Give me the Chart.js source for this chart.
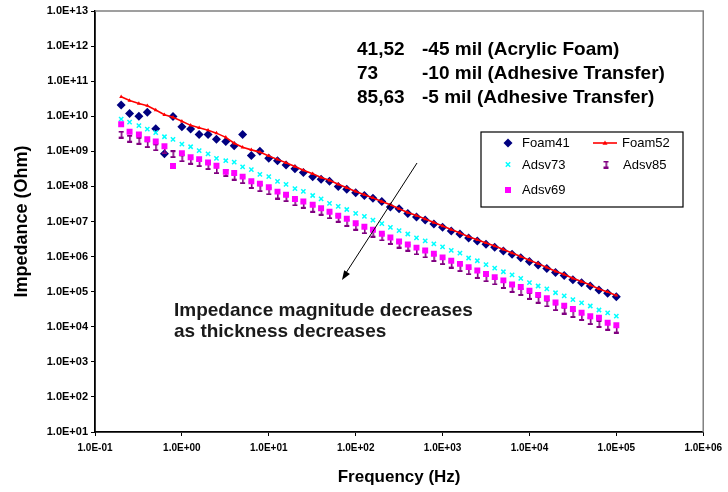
<!DOCTYPE html>
<html>
<head>
<meta charset="utf-8">
<script src="https://cdn.jsdelivr.net/npm/chart.js@4.4.0/dist/chart.umd.min.js"></script>
<style>
    html, body { margin: 0; padding: 0; background: #fff; }
</style>
</head>
<body>
<canvas id="myChart" width="728" height="492"></canvas>
<script>
// frequencias (Hz), 10 pontos por decada
const frequencias = [
    0.2, 0.25, 0.32, 0.4, 0.5, 0.63, 0.79, 1, 1.26, 1.58,
    2, 2.5, 3.2, 4, 5, 6.3, 7.9, 10, 12.6, 15.8,
    20, 25, 32, 40, 50, 63, 79, 100, 126, 158,
    200, 251, 316, 398, 501, 631, 794, 1000, 1259, 1585,
    1995, 2512, 3162, 3981, 5012, 6310, 7943, 10000, 12589, 15849,
    19953, 25119, 31623, 39811, 50119, 63096, 79433, 100000
];

const foam41 = [
    2.1e10, 1.2e10, 1.0e10, 1.3e10, 4.4e9, 8.5e8, 9.8e9, 5.0e9, 4.3e9, 3.0e9,
    3.0e9, 2.2e9, 1.9e9, 1.45e9, 3.0e9, 7.6e8, 1.0e9, 6.3e8, 5.4e8, 4.1e8,
    3.2e8, 2.5e8, 1.9e8, 1.6e8, 1.4e8, 1.0e8, 8.3e7, 6.6e7, 5.5e7, 4.6e7,
    3.7e7, 2.6e7, 2.3e7, 1.7e7, 1.35e7, 1.1e7, 8.5e6, 6.9e6, 5.4e6, 4.4e6,
    3.4e6, 2.8e6, 2.25e6, 1.85e6, 1.45e6, 1.17e6, 9.3e5, 7.2e5, 5.8e5, 4.6e5,
    3.5e5, 2.9e5, 2.2e5, 1.8e5, 1.45e5, 1.12e5, 9.0e4, 7.2e4
];

const foam52 = [
    3.6e10, 2.8e10, 2.3e10, 2.0e10, 1.5e10, 1.1e10, 9.3e9, 7.2e9, 5.5e9, 4.7e9,
    4.0e9, 3.3e9, 2.5e9, 1.7e9, 1.3e9, 1.1e9, 9.5e8, 7.4e8, 5.9e8, 4.7e8,
    3.7e8, 2.9e8, 2.3e8, 1.8e8, 1.5e8, 1.15e8, 9.1e7, 7.2e7, 5.8e7, 4.7e7,
    3.7e7, 3.0e7, 2.3e7, 1.8e7, 1.48e7, 1.17e7, 9.3e6, 7.4e6, 5.9e6, 4.7e6,
    3.7e6, 3.0e6, 2.45e6, 2.0e6, 1.6e6, 1.26e6, 1.0e6, 7.9e5, 6.3e5, 4.9e5,
    3.8e5, 3.1e5, 2.4e5, 1.95e5, 1.55e5, 1.2e5, 9.8e4, 7.8e4
];

const adsv73 = [
    8.3e9, 6.8e9, 5.4e9, 4.3e9, 3.4e9, 2.6e9, 2.2e9, 1.6e9, 1.35e9, 1.05e9,
    8.5e8, 6.3e8, 5.4e8, 4.9e8, 3.6e8, 3.0e8, 2.2e8, 1.9e8, 1.4e8, 1.15e8,
    8.7e7, 7.2e7, 5.5e7, 4.4e7, 3.3e7, 2.7e7, 2.2e7, 1.7e7, 1.4e7, 1.1e7,
    8.7e6, 6.8e6, 5.5e6, 4.4e6, 3.4e6, 2.8e6, 2.3e6, 1.9e6, 1.5e6, 1.26e6,
    9.1e5, 7.6e5, 5.9e5, 4.7e5, 3.7e5, 3.0e5, 2.4e5, 1.8e5, 1.45e5, 1.2e5,
    9.3e4, 7.6e4, 5.9e4, 4.8e4, 3.9e4, 3.0e4, 2.5e4, 2.0e4
];

const adsv85 = [
    3.0e9, 2.3e9, 2.0e9, 1.6e9, 1.3e9, 1.07e9, 8.3e8, 6.3e8, 5.4e8, 4.6e8,
    3.8e8, 2.9e8, 2.4e8, 1.9e8, 1.5e8, 1.1e8, 8.9e7, 7.2e7, 5.5e7, 4.6e7,
    3.5e7, 3.0e7, 2.3e7, 1.9e7, 1.5e7, 1.2e7, 9.1e6, 7.1e6, 5.6e6, 4.5e6,
    3.5e6, 2.8e6, 2.2e6, 1.8e6, 1.4e6, 1.15e6, 9.1e5, 7.4e5, 5.9e5, 4.7e5,
    3.8e5, 3.0e5, 2.4e5, 1.95e5, 1.55e5, 1.2e5, 9.8e4, 7.6e4, 5.9e4, 4.6e4,
    3.6e4, 2.9e4, 2.3e4, 1.9e4, 1.45e4, 1.2e4, 1.0e4, 8.3e3
];

const adsv69 = [
    5.9e9, 3.6e9, 3.0e9, 2.2e9, 1.9e9, 1.4e9, 3.8e8, 8.9e8, 6.8e8, 6.0e8,
    4.8e8, 3.9e8, 2.6e8, 2.4e8, 1.9e8, 1.4e8, 1.2e8, 9.5e7, 7.1e7, 5.8e7,
    4.4e7, 3.7e7, 3.0e7, 2.4e7, 1.9e7, 1.45e7, 1.2e7, 8.9e6, 7.1e6, 5.8e6,
    4.5e6, 3.5e6, 2.7e6, 2.2e6, 1.8e6, 1.5e6, 1.2e6, 9.5e5, 7.6e5, 6.2e5,
    5.0e5, 4.0e5, 3.2e5, 2.6e5, 2.1e5, 1.6e5, 1.35e5, 1.07e5, 8.1e4, 6.5e4,
    4.9e4, 4.0e4, 3.2e4, 2.5e4, 2.0e4, 1.8e4, 1.3e4, 1.1e4
];

const xTicks = [0.1, 1, 10, 100, 1000, 10000, 100000, 1000000];
const xTickLabels = ['1.0E-01', '1.0E+00', '1.0E+01', '1.0E+02', '1.0E+03', '1.0E+04', '1.0E+05', '1.0E+06'];
const yTicks = [1e1, 1e2, 1e3, 1e4, 1e5, 1e6, 1e7, 1e8, 1e9, 1e10, 1e11, 1e12, 1e13];
const yTickLabels = ['1.0E+01', '1.0E+02', '1.0E+03', '1.0E+04', '1.0E+05', '1.0E+06', '1.0E+07',
    '1.0E+08', '1.0E+09', '1.0E+10', '1.0E+11', '1.0E+12', '1.0E+13'];

const notas = [
    ['41,52', '-45 mil (Acrylic Foam)'],
    ['73', '-10 mil (Adhesive Transfer)'],
    ['85,63', '-5 mil (Adhesive Transfer)']
];
const textoSeta = ['Impedance magnitude decreases', 'as thickness decreases'];

const FONTE = '"Liberation Sans", Arial, sans-serif';

function pontos(valores) {
    return frequencias.map(function (f, i) { return { x: f, y: valores[i] }; });
}

// marcador em forma de "I" para a serie Adsv85
function marcadorI(cor) {
    const c = document.createElement('canvas');
    c.width = 7;
    c.height = 8;
    const g = c.getContext('2d');
    g.fillStyle = cor;
    g.fillRect(1, 0, 5, 2);
    g.fillRect(3, 0, 1.6, 8);
    g.fillRect(1, 6, 5, 2);
    return c;
}
const iconeAdsv85 = marcadorI('#800080');

function desenharMarcador(ctx, tipo, x, y) {
    ctx.save();
    if (tipo == 'Foam41') {
        ctx.fillStyle = '#000080';
        ctx.beginPath();
        ctx.moveTo(x, y - 4.5); ctx.lineTo(x + 4.5, y); ctx.lineTo(x, y + 4.5); ctx.lineTo(x - 4.5, y);
        ctx.closePath();
        ctx.fill();
    } else if (tipo == 'Foam52') {
        ctx.strokeStyle = '#FF0000';
        ctx.lineWidth = 1.6;
        ctx.beginPath(); ctx.moveTo(x - 12, y); ctx.lineTo(x + 12, y); ctx.stroke();
        ctx.fillStyle = '#FF0000';
        ctx.beginPath();
        ctx.moveTo(x, y - 2.5); ctx.lineTo(x + 2.5, y + 1.8); ctx.lineTo(x - 2.5, y + 1.8);
        ctx.closePath();
        ctx.fill();
    } else if (tipo == 'Adsv73') {
        ctx.strokeStyle = '#00FFFF';
        ctx.lineWidth = 1.5;
        ctx.beginPath();
        ctx.moveTo(x - 2.2, y - 2.2); ctx.lineTo(x + 2.2, y + 2.2);
        ctx.moveTo(x + 2.2, y - 2.2); ctx.lineTo(x - 2.2, y + 2.2);
        ctx.stroke();
    } else if (tipo == 'Adsv85') {
        ctx.drawImage(iconeAdsv85, x - 3.5, y - 4);
    } else {
        ctx.fillStyle = '#FF00FF';
        ctx.fillRect(x - 3, y - 3, 6, 6);
    }
    ctx.restore();
}

// moldura do grafico, legenda e anotacoes
const extras = {
    id: 'extras',
    afterDraw: function (chart) {
        const ctx = chart.ctx;
        const area = chart.chartArea;
        ctx.save();

        ctx.strokeStyle = '#808080';
        ctx.lineWidth = 1.5;
        ctx.beginPath();
        ctx.moveTo(area.left, area.top);
        ctx.lineTo(area.right, area.top);
        ctx.lineTo(area.right, area.bottom);
        ctx.stroke();

        // notas do topo
        ctx.fillStyle = '#000';
        ctx.font = 'bold 19px ' + FONTE;
        ctx.textBaseline = 'middle';
        ctx.textAlign = 'left';
        const linhasY = [50, 73.5, 98];
        for (let i = 0; i < notas.length; i++) {
            ctx.fillText(notas[i][0], 357, linhasY[i]);
            ctx.fillText(notas[i][1], 422, linhasY[i]);
        }

        // seta
        ctx.strokeStyle = '#000';
        ctx.lineWidth = 1;
        ctx.beginPath();
        ctx.moveTo(417, 163);
        ctx.lineTo(344, 276);
        ctx.stroke();
        const ang = Math.atan2(280 - 163, 342 - 417);
        ctx.fillStyle = '#000';
        ctx.beginPath();
        ctx.moveTo(342, 280);
        ctx.lineTo(342 - 10 * Math.cos(ang - 0.35), 280 - 10 * Math.sin(ang - 0.35));
        ctx.lineTo(342 - 10 * Math.cos(ang + 0.35), 280 - 10 * Math.sin(ang + 0.35));
        ctx.closePath();
        ctx.fill();

        ctx.font = 'bold 19px ' + FONTE;
        ctx.fillStyle = '#1a1a1a';
        ctx.fillText(textoSeta[0], 174, 311);
        ctx.fillText(textoSeta[1], 174, 332);

        // legenda
        ctx.fillStyle = '#fff';
        ctx.fillRect(481, 132, 202, 75);
        ctx.strokeStyle = '#000';
        ctx.lineWidth = 1.2;
        ctx.strokeRect(481, 132, 202, 75);
        const itens = [
            { nome: 'Foam41', x: 508, y: 143 },
            { nome: 'Foam52', x: 605, y: 143 },
            { nome: 'Adsv73', x: 508, y: 164.5 },
            { nome: 'Adsv85', x: 606, y: 164.5 },
            { nome: 'Adsv69', x: 508, y: 190 }
        ];
        ctx.font = '13px ' + FONTE;
        for (const item of itens) {
            desenharMarcador(ctx, item.nome, item.x, item.y);
            const tx = item.nome == 'Foam52' ? 622 : (item.nome == 'Adsv85' ? 623 : 522);
            ctx.fillStyle = '#000';
            ctx.fillText(item.nome, tx, item.y + 0.5);
        }
        ctx.restore();
    }
};

const dados = {
    datasets: [
        {
            label: 'Foam41', data: pontos(foam41), order: 5,
            pointStyle: 'rectRot', pointRadius: 4.5, borderWidth: 0,
            backgroundColor: '#000080', borderColor: '#000080'
        },
        {
            label: 'Foam52', data: pontos(foam52), order: 4, showLine: true,
            borderColor: '#FF0000', backgroundColor: '#FF0000', borderWidth: 1.6,
            pointStyle: 'triangle', pointRadius: 2.3, pointBorderWidth: 0
        },
        {
            label: 'Adsv73', data: pontos(adsv73), order: 3,
            pointStyle: 'crossRot', pointRadius: 3, borderWidth: 1.5,
            borderColor: '#00FFFF', backgroundColor: '#00FFFF'
        },
        {
            label: 'Adsv85', data: pontos(adsv85), order: 2,
            pointStyle: iconeAdsv85, pointRadius: 4,
            borderColor: '#800080', backgroundColor: '#800080'
        },
        {
            label: 'Adsv69', data: pontos(adsv69), order: 1,
            pointStyle: 'rect', pointRadius: 4.2, borderWidth: 0,
            backgroundColor: '#FF00FF', borderColor: '#FF00FF'
        }
    ]
};

const config = {
    type: 'scatter',
    data: dados,
    options: {
        responsive: false,
        animation: false,
        layout: { padding: { top: 11, right: 22, left: 0, bottom: 0 } },
        plugins: {
            legend: { display: false },
            tooltip: { enabled: false }
        },
        scales: {
            x: {
                type: 'logarithmic',
                min: 0.1,
                max: 1000000,
                afterBuildTicks: function (s) { s.ticks = xTicks.map(function (v) { return { value: v }; }); },
                afterFit: function (s) { s.height = 60; },
                ticks: {
                    autoSkip: false, maxRotation: 0, padding: 6, color: '#000',
                    font: { family: FONTE, size: 10, weight: 'bold' },
                    callback: function (v, i) { return xTickLabels[i]; }
                },
                grid: { drawOnChartArea: false, tickLength: 4, color: '#000' },
                border: { color: '#000', width: 1.8 },
                title: {
                    display: true, text: 'Frequency (Hz)', color: '#000',
                    font: { family: FONTE, size: 17, weight: 'bold' },
                    padding: { top: 0, bottom: 4 }
                }
            },
            y: {
                type: 'logarithmic',
                min: 10,
                max: 1e13,
                afterBuildTicks: function (s) { s.ticks = yTicks.map(function (v) { return { value: v }; }); },
                afterFit: function (s) { s.width = 95; },
                ticks: {
                    autoSkip: false, padding: 3, color: '#000',
                    font: { family: FONTE, size: 11, weight: 'bold' },
                    callback: function (v, i) { return yTickLabels[i]; }
                },
                grid: { drawOnChartArea: false, tickLength: 4, color: '#000' },
                border: { color: '#000', width: 1.8 },
                title: {
                    display: true, text: 'Impedance (Ohm)', color: '#000',
                    font: { family: FONTE, size: 18, weight: 'bold' },
                    padding: { top: 11, bottom: 0 }
                }
            }
        }
    },
    plugins: [extras]
};

const ctx = document.getElementById('myChart');
myChart = new Chart(ctx, config);
</script>
</body>
</html>
